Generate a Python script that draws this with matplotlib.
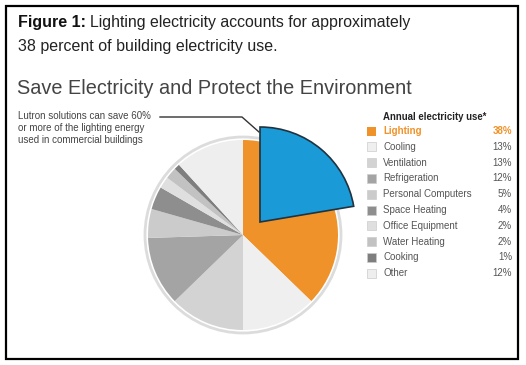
import matplotlib
matplotlib.use("Agg")
import matplotlib.pyplot as plt
from matplotlib.patches import Rectangle, Circle

plt.rcParams['font.family'] = ['Liberation Sans', 'DejaVu Sans']

categories = ["Lighting", "Cooling", "Ventilation", "Refrigeration", "Personal Computers",
              "Space Heating", "Office Equipment", "Water Heating", "Cooking", "Other"]
shares = [38, 13, 13, 12, 5, 4, 2, 2, 1, 12]
labels_pct = ["38%", "13%", "13%", "12%", "5%", "4%", "2%", "2%", "1%", "12%"]
colors = ["#F0922A", "#EFEFEF", "#D3D3D3", "#A4A4A4", "#CBCBCB",
          "#8E8E8E", "#DFDFDF", "#C2C2C2", "#7E7E7E", "#EEEEEE"]
savings_fraction = 0.60  # Lutron can save 60% of lighting energy

W, H = 526, 365
fig = plt.figure(figsize=(W / 100, H / 100), dpi=100)
ax = fig.add_axes([0, 0, 1, 1])

def Y(y):
    return H - y

cx, cy, r = 243, Y(235), 95
total = sum(shares)

# rim around the pie
ax.add_patch(Circle((cx, cy), r + 3, facecolor="none", edgecolor="#DCDCDC", lw=2, zorder=0.5))

ax.pie(shares, colors=colors, startangle=90, counterclock=False,
       center=(cx, cy), radius=r, wedgeprops=dict(linewidth=0))

# exploded blue wedge: savings portion of lighting
save_val = shares[0] * savings_fraction
wedges, _ = ax.pie([save_val, total - save_val], colors=["#1B9AD8", "none"],
                   startangle=90, counterclock=False,
                   center=(cx + 17, cy + 13), radius=r,
                   wedgeprops=dict(linewidth=1.2, edgecolor="#1F3340"))
wedges[1].set_visible(False)
wedges[0].set_zorder(3)

ax.set_xlim(0, W)
ax.set_ylim(0, H)
ax.set_aspect("auto")
ax.axis("off")

# border
ax.add_patch(Rectangle((6, Y(359)), 512, 353, facecolor="none", edgecolor="black", lw=1.6, zorder=5))

# Titles
ax.text(18, Y(22), "Figure 1:", fontsize=11.5, fontweight="bold", color="#111111", va="center")
ax.text(90, Y(22), "Lighting electricity accounts for approximately", fontsize=11.4,
        color="#222222", va="center")
ax.text(18, Y(46), "38 percent of building electricity use.", fontsize=11.5,
        color="#222222", va="center")
ax.text(17, Y(88), "Save Electricity and Protect the Environment", fontsize=14.3,
        color="#444444", va="center")

# annotation
ann = ["Lutron solutions can save 60%", "or more of the lighting energy",
       "used in commercial buildings"]
for i, t in enumerate(ann):
    ax.text(18, Y(116 + i * 12), t, fontsize=7.0, color="#444444", va="center")
ax.plot([160, 242, 259], [Y(117), Y(117), Y(132)], color="#333333", lw=1.0, zorder=4)

# legend
ax.text(383, Y(117), "Annual electricity use*", fontsize=6.9, fontweight="bold",
        color="#222222", va="center")
for i, (cat, pct, col) in enumerate(zip(categories, labels_pct, colors)):
    y = Y(131 + i * 15.8)
    ec = "none" if i == 0 else "#CCCCCC"
    ax.add_patch(Rectangle((367, y - 4.5), 9, 9, facecolor=col, edgecolor=ec, lw=0.5, zorder=3))
    tc = "#F0922A" if i == 0 else "#555555"
    fw = "bold" if i == 0 else "normal"
    ax.text(383, y, cat, fontsize=7.0, color=tc, va="center", fontweight=fw)
    ax.text(512, y, pct, fontsize=7.0, color=tc, va="center", ha="right", fontweight=fw)

fig.savefig("out.png", dpi=100)
